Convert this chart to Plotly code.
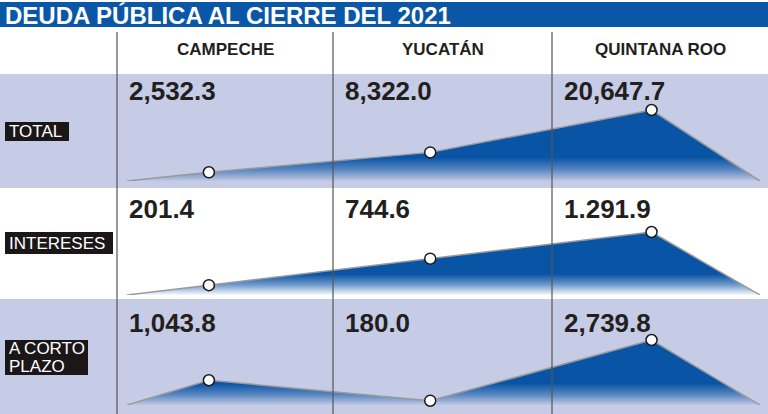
import plotly.graph_objects as go

# ---------------- data ----------------
STATES = ["CAMPECHE", "YUCATÁN", "QUINTANA ROO"]
ROW_NAMES = ["TOTAL", "INTERESES", "A CORTO PLAZO"]
TOTAL = [2532.3, 8322.0, 20647.7]
INTERESES = [201.4, 744.6, 1291.9]
CORTO_PLAZO = [1043.8, 180.0, 2739.8]
TOTAL_TXT = ["2,532.3", "8,322.0", "20,647.7"]
INTERESES_TXT = ["201.4", "744.6", "1.291.9"]
CORTO_TXT = ["1,043.8", "180.0", "2,739.8"]
TITLE = "DEUDA PÚBLICA AL CIERRE DEL 2021"

ROWS = [TOTAL, INTERESES, CORTO_PLAZO]
ROW_TXT = [TOTAL_TXT, INTERESES_TXT, CORTO_TXT]

# ---------------- style / layout ----------------
W, H = 768, 414
LAV = "#C6CCE5"
DARK = "#231F20"
FONT = "Liberation Sans, Arial, sans-serif"

def py(p):
    return 1 - p / H

def px(p):
    return p / W

COL_EDGES = [117, 333, 552, 768]
BANDS = [(74, 188, LAV), (188, 299, "white"), (299, 414, LAV)]
# (baseline pixel, peak pixel) of each row's mini chart
ROW_GEOM = [(181, 110), (295, 232), (405, 340)]
VALUE_Y = [91, 209, 323]
X_RANGE = [-0.37, 2.49]
X_DOMAIN = [px(127), px(760)]

fig = go.Figure()
layout_axes = {}
for i, (vals, (base, peak)) in enumerate(zip(ROWS, ROW_GEOM)):
    n = "" if i == 0 else str(i + 1)
    xa, ya = "x" + n, "y" + n
    vmax = max(vals)
    xs = [X_RANGE[0]] + list(range(len(vals))) + [X_RANGE[1]]
    ys = [0] + vals + [0]
    fig.add_trace(go.Scatter(
        x=xs, y=ys, xaxis=xa, yaxis=ya, mode="lines",
        line=dict(color="#9a9a9a", width=1.5),
        fill="tozeroy",
        fillgradient=dict(type="vertical",
                          colorscale=[[0, "rgba(10,84,166,0.03)"],
                                      [0.5, "rgba(10,84,166,0.6)"],
                                      [1, "rgba(10,84,166,1)"]],
                          start=0, stop=0.33 * vmax),
        hoverinfo="skip", showlegend=False, cliponaxis=False))
    fig.add_trace(go.Scatter(
        x=list(range(len(vals))), y=vals, xaxis=xa, yaxis=ya, mode="markers",
        marker=dict(size=11, color="white", line=dict(color="#1a1a1a", width=1.5)),
        showlegend=False, cliponaxis=False, hoverinfo="skip"))
    layout_axes["xaxis" + n] = dict(domain=X_DOMAIN, range=X_RANGE, visible=False,
                                    fixedrange=True, anchor=ya)
    layout_axes["yaxis" + n] = dict(domain=[py(base), py(peak)], range=[0, vmax],
                                    visible=False, fixedrange=True, anchor=xa)

shapes = []
annotations = []
# title bar
shapes.append(dict(type="rect", xref="paper", yref="paper", x0=0, x1=1,
                   y0=py(27), y1=py(2), fillcolor="rgb(11,87,167)", line_width=0, layer="below"))
annotations.append(dict(text=TITLE, xref="paper", yref="paper", x=px(3), y=py(15),
                        xanchor="left", yanchor="middle", showarrow=False,
                        font=dict(family=FONT, size=24, color="white", weight="bold")))
# bands
for (t, b, c) in BANDS:
    shapes.append(dict(type="rect", xref="paper", yref="paper", x0=0, x1=1,
                       y0=py(b), y1=py(t), fillcolor=c, line_width=0, layer="below"))
# column lines
for xe in COL_EDGES[:-1]:
    shapes.append(dict(type="line", xref="paper", yref="paper", x0=px(xe), x1=px(xe),
                       y0=py(414), y1=py(32), line=dict(color="#555555", width=1.2),
                       layer="above"))
# headers
for j, s in enumerate(STATES):
    cx = (COL_EDGES[j] + COL_EDGES[j + 1]) / 2
    annotations.append(dict(text=s, xref="paper", yref="paper", x=px(cx), y=py(50),
                            xanchor="center", yanchor="middle", showarrow=False,
                            font=dict(family=FONT, size=17, color=DARK, weight="bold")))
# values
for i, txts in enumerate(ROW_TXT):
    for j, t in enumerate(txts):
        annotations.append(dict(text=t, xref="paper", yref="paper",
                                x=px(COL_EDGES[j] + 10), y=py(VALUE_Y[i]),
                                xanchor="left", yanchor="middle", showarrow=False,
                                font=dict(family=FONT, size=26, color=DARK, weight="bold")))
# row labels (black boxes)
LABEL_BOXES = [(5, 69, 122, 141), (5, 113, 232, 254), (5, 88, 340, 375)]
LABEL_LINES = [["TOTAL"], ["INTERESES"], ["A CORTO", "PLAZO"]]
for lines, (x0, x1, y0, y1) in zip(LABEL_LINES, LABEL_BOXES):
    shapes.append(dict(type="rect", xref="paper", yref="paper", x0=px(x0), x1=px(x1),
                       y0=py(y1), y1=py(y0), fillcolor="#1b1718", line_width=0, layer="below"))
    nl = len(lines)
    for k, ln in enumerate(lines):
        cy = y0 + (y1 - y0) * (k + 0.5) / nl
        annotations.append(dict(text=ln, xref="paper", yref="paper", x=px(x0 + 2), y=py(cy),
                                xanchor="left", yanchor="middle", showarrow=False,
                                font=dict(family=FONT, size=17, color="white")))

fig.update_layout(
    width=W, height=H, margin=dict(l=0, r=0, t=0, b=0),
    paper_bgcolor="white", plot_bgcolor="rgba(0,0,0,0)",
    shapes=shapes, annotations=annotations, showlegend=False,
    **layout_axes)

fig.write_html("out.html", config={"displayModeBar": False},
               post_script="document.body.style.margin='0';document.body.style.overflow='hidden';")
